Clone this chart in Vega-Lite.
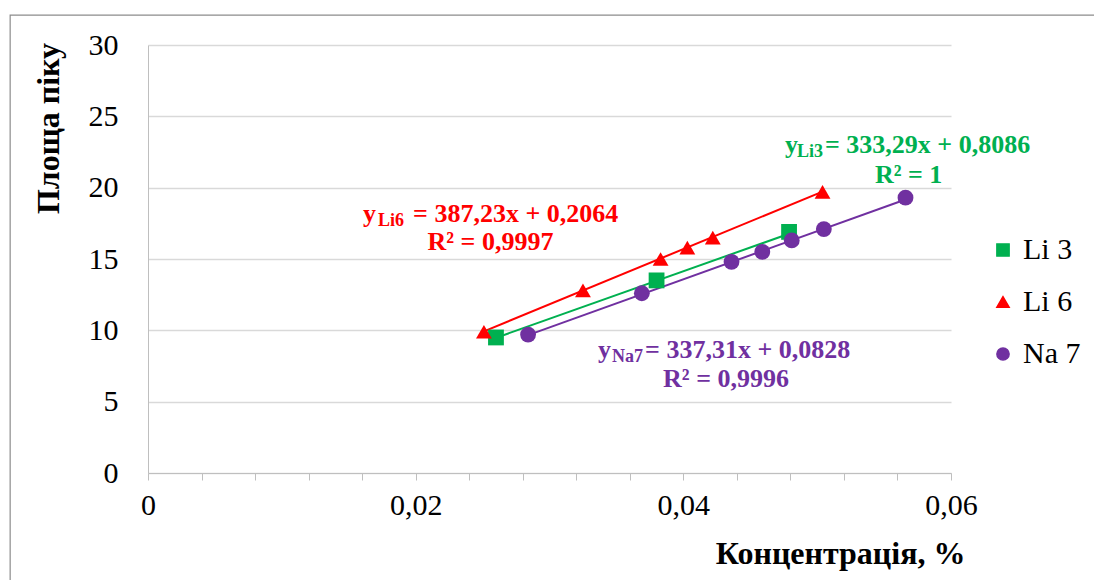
{
  "$schema": "https://vega.github.io/schema/vega-lite/v6.json",
  "width": 803,
  "height": 428,
  "autosize": {"type": "none"},
  "padding": {"left": 148, "top": 45, "right": 143, "bottom": 107},
  "background": "white",
  "config": {
    "view": {"stroke": null},
    "font": "Liberation Serif",
    "text": {"font": "Liberation Serif"},
    "legend": {
      "orient": "none",
      "legendX": 840,
      "legendY": 190,
      "labelFont": "Liberation Serif",
      "labelFontSize": 30,
      "labelColor": "#000000",
      "symbolSize": 150,
      "rowPadding": 22,
      "labelOffset": 5
    }
  },
  "datasets": {
    "points": [
      {"series": "Li 3", "conc": 0.0260, "area": 9.5},
      {"series": "Li 3", "conc": 0.0380, "area": 13.5},
      {"series": "Li 3", "conc": 0.0479, "area": 16.9},
      {"series": "Li 6", "conc": 0.0251, "area": 9.9},
      {"series": "Li 6", "conc": 0.0325, "area": 12.8},
      {"series": "Li 6", "conc": 0.0383, "area": 15.0},
      {"series": "Li 6", "conc": 0.0403, "area": 15.8},
      {"series": "Li 6", "conc": 0.0422, "area": 16.5},
      {"series": "Li 6", "conc": 0.0504, "area": 19.7},
      {"series": "Na 7", "conc": 0.0284, "area": 9.7},
      {"series": "Na 7", "conc": 0.0369, "area": 12.6},
      {"series": "Na 7", "conc": 0.0436, "area": 14.8},
      {"series": "Na 7", "conc": 0.0459, "area": 15.5},
      {"series": "Na 7", "conc": 0.0481, "area": 16.3},
      {"series": "Na 7", "conc": 0.0505, "area": 17.1},
      {"series": "Na 7", "conc": 0.0566, "area": 19.3}
    ],
    "trend": [
      {"series": "Li 3", "conc": 0.0260, "area": 9.474},
      {"series": "Li 3", "conc": 0.0479, "area": 16.773},
      {"series": "Li 6", "conc": 0.0251, "area": 9.926},
      {"series": "Li 6", "conc": 0.0504, "area": 19.723},
      {"series": "Na 7", "conc": 0.0284, "area": 9.662},
      {"series": "Na 7", "conc": 0.0566, "area": 19.175}
    ],
    "one": [{}]
  },
  "layer": [
    {
      "data": {"name": "one"},
      "mark": {"type": "rect", "fill": null, "stroke": "#8c8c8c", "strokeWidth": 1.2},
      "encoding": {
        "x": {"datum": -0.0103, "type": "quantitative", "scale": {"domain": [0, 0.06]}},
        "x2": {"datum": 0.072},
        "y": {"datum": 32.1, "type": "quantitative", "scale": {"domain": [0, 30]}},
        "y2": {"datum": -12}
      }
    },
    {
      "data": {"name": "trend"},
      "mark": {"type": "line", "strokeWidth": 2},
      "encoding": {
        "x": {
          "field": "conc", "type": "quantitative",
          "scale": {"domain": [0, 0.06], "nice": false},
          "axis": {
            "title": "Концентрація, %",
            "values": [0, 0.004, 0.008, 0.012, 0.016, 0.02, 0.024, 0.028, 0.032, 0.036, 0.04, 0.044, 0.048, 0.052, 0.056, 0.06],
            "labelExpr": "abs(datum.value * 50 - round(datum.value * 50)) < 0.000001 ? (datum.value == 0 ? '0' : replace(format(datum.value, '.2f'), '.', ',')) : ''",
            "grid": false,
            "domainColor": "#bfbfbf",
            "tickColor": "#bfbfbf",
            "tickSize": 7,
            "labelFont": "Liberation Serif",
            "labelFontSize": 30,
            "labelColor": "#000000",
            "labelPadding": 10,
            "labelFlush": false,
            "labelOverlap": false,
            "titleFont": "Liberation Serif",
            "titleFontSize": 32,
            "titleFontWeight": "bold",
            "titleColor": "#000000",
            "titleAlign": "right",
            "titleBaseline": "middle",
            "titleAnchor": null,
            "titleX": 817,
            "titleY": 80
          }
        },
        "y": {
          "field": "area", "type": "quantitative",
          "scale": {"domain": [0, 30], "nice": false},
          "axis": {
            "title": "Площа піку",
            "values": [0, 5, 10, 15, 20, 25, 30],
            "grid": true,
            "gridColor": "#d9d9d9",
            "gridWidth": 1.3,
            "ticks": false,
            "domainColor": "#bfbfbf",
            "labelFont": "Liberation Serif",
            "labelFontSize": 30,
            "labelColor": "#000000",
            "labelPadding": 30,
            "labelFlush": false,
            "titleFont": "Liberation Serif",
            "titleFontSize": 32,
            "titleFontWeight": "bold",
            "titleColor": "#000000",
            "titleAngle": -90,
            "titleAlign": "center",
            "titleBaseline": "middle",
            "titleAnchor": null,
            "titleX": -100,
            "titleY": 83
          }
        },
        "color": {
          "field": "series", "type": "nominal",
          "scale": {"domain": ["Li 3", "Li 6", "Na 7"], "range": ["#00B050", "#FF0000", "#7030A0"]},
          "legend": {"title": null, "symbolType": "circle", "labelFont": "Liberation Serif"}
        }
      }
    },
    {
      "data": {"name": "points"},
      "mark": {"type": "point", "filled": true, "opacity": 1, "size": 250},
      "encoding": {
        "x": {"field": "conc", "type": "quantitative"},
        "y": {"field": "area", "type": "quantitative"},
        "color": {
          "field": "series", "type": "nominal",
          "legend": {"title": null, "labelFont": "Liberation Serif"}
        },
        "shape": {
          "field": "series", "type": "nominal",
          "scale": {"domain": ["Li 3", "Li 6", "Na 7"], "range": ["square", "triangle-up", "circle"]},
          "legend": {"title": null, "labelFont": "Liberation Serif"}
        }
      }
    },
    {
      "data": {"name": "one"},
      "mark": {"type": "text", "align": "left", "baseline": "alphabetic", "fontSize": 26, "fontWeight": "bold", "color": "#00B050", "text": "y"},
      "encoding": {"x": {"datum": 0.0476}, "y": {"datum": 22.42}}
    },
    {
      "data": {"name": "one"},
      "mark": {"type": "text", "align": "left", "baseline": "alphabetic", "fontSize": 18, "fontWeight": "bold", "color": "#00B050", "text": "Li3", "dx": 12, "dy": 4},
      "encoding": {"x": {"datum": 0.0476}, "y": {"datum": 22.42}}
    },
    {
      "data": {"name": "one"},
      "mark": {"type": "text", "align": "left", "baseline": "alphabetic", "fontSize": 26, "fontWeight": "bold", "color": "#00B050", "text": "= 333,29x + 0,8086", "dx": 40},
      "encoding": {"x": {"datum": 0.0476}, "y": {"datum": 22.42}}
    },
    {
      "data": {"name": "one"},
      "mark": {"type": "text", "align": "center", "baseline": "alphabetic", "fontSize": 26, "fontWeight": "bold", "color": "#00B050", "text": "R² = 1"},
      "encoding": {"x": {"datum": 0.05683}, "y": {"datum": 20.32}}
    },
    {
      "data": {"name": "one"},
      "mark": {"type": "text", "align": "left", "baseline": "alphabetic", "fontSize": 26, "fontWeight": "bold", "color": "#FF0000", "text": "y"},
      "encoding": {"x": {"datum": 0.01607}, "y": {"datum": 17.59}}
    },
    {
      "data": {"name": "one"},
      "mark": {"type": "text", "align": "left", "baseline": "alphabetic", "fontSize": 18, "fontWeight": "bold", "color": "#FF0000", "text": "Li6", "dx": 15, "dy": 4},
      "encoding": {"x": {"datum": 0.01607}, "y": {"datum": 17.59}}
    },
    {
      "data": {"name": "one"},
      "mark": {"type": "text", "align": "left", "baseline": "alphabetic", "fontSize": 26, "fontWeight": "bold", "color": "#FF0000", "text": "= 387,23x + 0,2064", "dx": 50},
      "encoding": {"x": {"datum": 0.01607}, "y": {"datum": 17.59}}
    },
    {
      "data": {"name": "one"},
      "mark": {"type": "text", "align": "center", "baseline": "alphabetic", "fontSize": 26, "fontWeight": "bold", "color": "#FF0000", "text": "R² = 0,9997"},
      "encoding": {"x": {"datum": 0.02559}, "y": {"datum": 15.63}}
    },
    {
      "data": {"name": "one"},
      "mark": {"type": "text", "align": "left", "baseline": "alphabetic", "fontSize": 26, "fontWeight": "bold", "color": "#7030A0", "text": "y"},
      "encoding": {"x": {"datum": 0.03363}, "y": {"datum": 8.06}}
    },
    {
      "data": {"name": "one"},
      "mark": {"type": "text", "align": "left", "baseline": "alphabetic", "fontSize": 18, "fontWeight": "bold", "color": "#7030A0", "text": "Na7", "dx": 14, "dy": 4},
      "encoding": {"x": {"datum": 0.03363}, "y": {"datum": 8.06}}
    },
    {
      "data": {"name": "one"},
      "mark": {"type": "text", "align": "left", "baseline": "alphabetic", "fontSize": 26, "fontWeight": "bold", "color": "#7030A0", "text": "= 337,31x + 0,0828", "dx": 47},
      "encoding": {"x": {"datum": 0.03363}, "y": {"datum": 8.06}}
    },
    {
      "data": {"name": "one"},
      "mark": {"type": "text", "align": "center", "baseline": "alphabetic", "fontSize": 26, "fontWeight": "bold", "color": "#7030A0", "text": "R² = 0,9996"},
      "encoding": {"x": {"datum": 0.04319}, "y": {"datum": 6.03}}
    }
  ]
}
